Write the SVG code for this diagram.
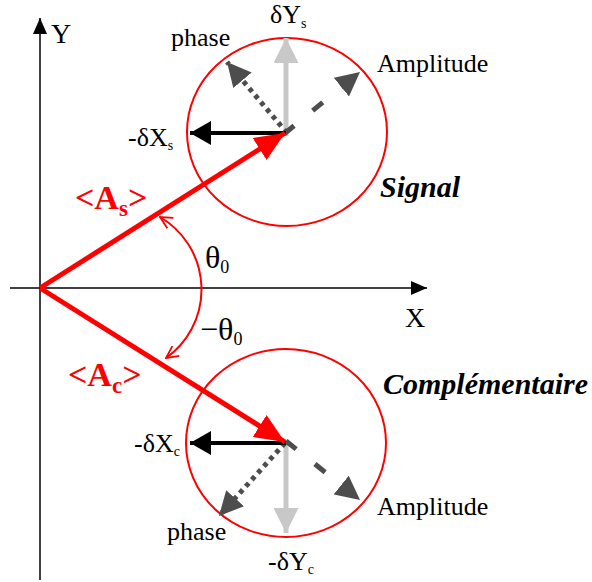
<svg xmlns="http://www.w3.org/2000/svg" width="592" height="582" viewBox="0 0 592 582">
<style>
text{font-family:"Liberation Serif","Times New Roman",serif;fill:#000}
.t{font-size:26px}
.ax{font-size:28px}
.sub{font-size:14px}
.th{font-size:32px}
.th0{font-size:18px}
.red{fill:#ff0000;font-weight:bold;font-size:34px}
.rsub{font-size:23px}
.bi{font-weight:bold;font-style:italic;font-size:30px}
.circ{fill:none;stroke:#ff0000;stroke-width:2}
.vec{stroke:#ff0000;stroke-width:5;fill:none}
</style>
<defs>
<marker id="axh" viewBox="0 0 16 14" refX="16" refY="7" markerWidth="16" markerHeight="14" markerUnits="userSpaceOnUse" orient="auto"><path d="M0,0 L16,7 L0,14 Z" fill="#000"/></marker>
<marker id="redh" viewBox="0 0 30 26" refX="30" refY="13" markerWidth="30" markerHeight="26" markerUnits="userSpaceOnUse" orient="auto"><path d="M0,0 L30,13 L0,26 Z" fill="#ff0000"/></marker>
<marker id="blkh" viewBox="0 0 21 24" refX="21" refY="12" markerWidth="21" markerHeight="24" markerUnits="userSpaceOnUse" orient="auto"><path d="M0,0 L21,12 L0,24 Z" fill="#000"/></marker>
<marker id="grayh" viewBox="0 0 25 25" refX="25" refY="12.5" markerWidth="25" markerHeight="25" markerUnits="userSpaceOnUse" orient="auto"><path d="M0,0 L25,12.5 L0,25 Z" fill="#c8c8c8"/></marker>
<marker id="dkh" viewBox="0 0 24 24" refX="24" refY="12" markerWidth="24" markerHeight="24" markerUnits="userSpaceOnUse" orient="auto"><path d="M0,0 L24,12 L0,24 Z" fill="#4d4d4d"/></marker>
<marker id="chev" viewBox="0 0 14 14" refX="13" refY="7" markerWidth="14" markerHeight="14" markerUnits="userSpaceOnUse" orient="auto-start-reverse"><path d="M1,1 L13,7 L1,13" fill="none" stroke="#ff0000" stroke-width="1.8"/></marker>
</defs>

<g id="axes">
<line x1="40" y1="580" x2="40" y2="18" stroke="#000" stroke-width="1.5" marker-end="url(#axh)"/>
<line x1="10" y1="288" x2="427" y2="288" stroke="#000" stroke-width="1.5" marker-end="url(#axh)"/>
<text class="ax" x="51" y="43">Y</text>
<text class="ax" x="405" y="327">X</text>
</g>

<g id="signal-circle">
<ellipse class="circ" cx="287" cy="132" rx="100" ry="94"/>
<text class="bi" x="380" y="197">Signal</text>
</g>

<g id="comp-circle">
<ellipse class="circ" cx="286" cy="443" rx="100" ry="94"/>
<text class="bi" x="383" y="394">Complémentaire</text>
</g>

<g id="connectors">
<line x1="286" y1="136" x2="286" y2="38" stroke="#c8c8c8" stroke-width="5" marker-end="url(#grayh)"/>
<line x1="287" y1="133" x2="227" y2="62" stroke="#4d4d4d" stroke-width="5" stroke-dasharray="4.5 4.5" marker-end="url(#dkh)"/>
<line x1="284" y1="134" x2="360" y2="72" stroke="#4d4d4d" stroke-width="5" stroke-dasharray="13 24" marker-end="url(#dkh)"/>
<line x1="286" y1="133" x2="190" y2="133" stroke="#000" stroke-width="4" marker-end="url(#blkh)"/>
<line class="vec" x1="40" y1="288" x2="285" y2="133" marker-end="url(#redh)"/>
<line x1="286" y1="440" x2="286" y2="533" stroke="#c8c8c8" stroke-width="5" marker-end="url(#grayh)"/>
<line x1="285" y1="443" x2="219" y2="516" stroke="#4d4d4d" stroke-width="5" stroke-dasharray="4.5 4.5" marker-end="url(#dkh)"/>
<line x1="286" y1="441" x2="360" y2="500" stroke="#4d4d4d" stroke-width="5" stroke-dasharray="13 24" marker-end="url(#dkh)"/>
<line x1="286" y1="443" x2="190" y2="443" stroke="#000" stroke-width="4" marker-end="url(#blkh)"/>
<line class="vec" x1="40" y1="288" x2="285" y2="442" marker-end="url(#redh)"/>
<path d="M160,217 A84,84 0 0 1 166,358" fill="none" stroke="#ff0000" stroke-width="2" marker-start="url(#chev)" marker-end="url(#chev)"/>
</g>

<g id="labels">
<text class="t" x="270" y="23">δY<tspan class="sub" dy="5">s</tspan></text>
<text class="t" x="171" y="46">phase</text>
<text class="t" x="377" y="72">Amplitude</text>
<text class="t" x="128" y="146">-δX<tspan class="sub" dy="4">s</tspan></text>
<text class="red" x="75" y="209">&lt;A<tspan class="rsub" dy="7">s</tspan><tspan dy="-7">&gt;</tspan></text>
<text class="th" x="205" y="268">θ<tspan class="th0" dy="5">0</tspan></text>
<text class="th" x="200" y="340">−θ<tspan class="th0" dy="5">0</tspan></text>
<text class="red" x="68" y="386">&lt;A<tspan class="rsub" dy="7">c</tspan><tspan dy="-7">&gt;</tspan></text>
<text class="t" x="134" y="452">-δX<tspan class="sub" dy="4">c</tspan></text>
<text class="t" x="377" y="515">Amplitude</text>
<text class="t" x="167" y="540">phase</text>
<text class="t" x="268" y="570">-δY<tspan class="sub" dy="4">c</tspan></text>
</g>
</svg>
